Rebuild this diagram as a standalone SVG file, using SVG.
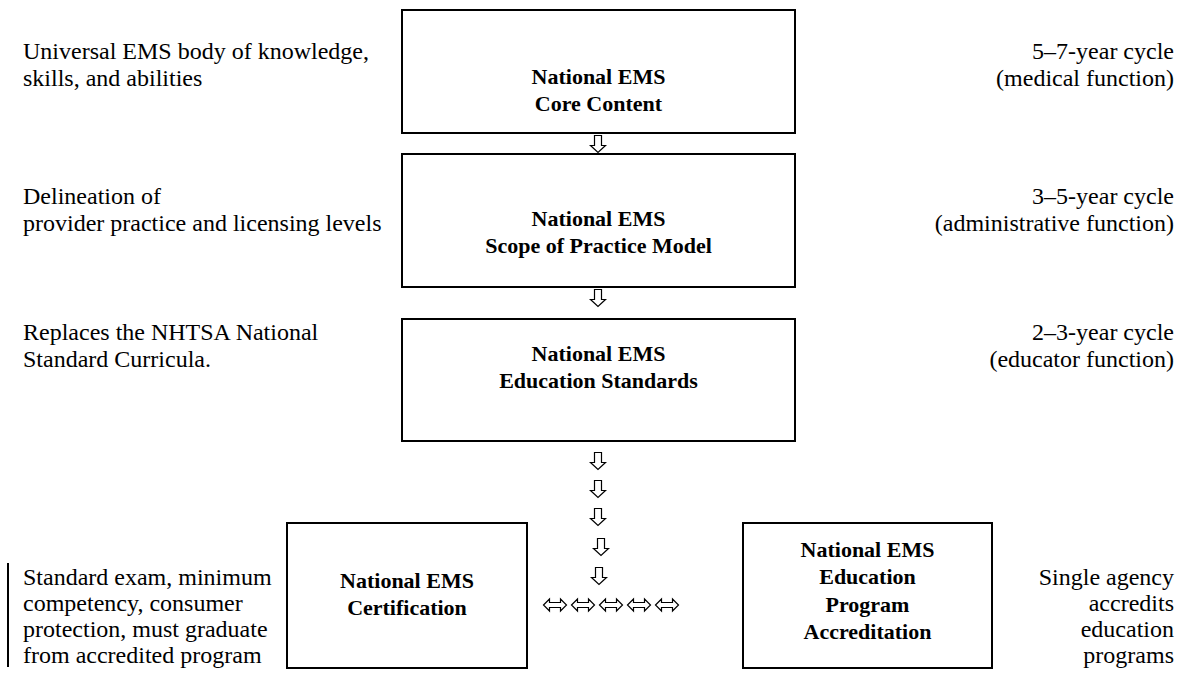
<svg xmlns="http://www.w3.org/2000/svg" width="1180" height="673" viewBox="0 0 1180 673">
  <style>
    .box { fill: #fff; stroke: #000; stroke-width: 2; }
    .title { font-family: "Liberation Serif", "Times New Roman", serif; font-weight: bold; font-size: 22px; fill: #000; text-anchor: middle; }
    .note { font-family: "Liberation Serif", "Times New Roman", serif; font-size: 24px; fill: #000; }
    .right { text-anchor: end; }
    .arrow { fill: #fff; stroke: #000; stroke-width: 1.2; stroke-linejoin: miter; }
  </style>
  <defs>
    <!-- hollow downward arrow -->
    <path id="down" class="arrow" d="M-3.5,-8.5 L3.5,-8.5 L3.5,1.5 L7.5,1.5 L0,8.5 L-7.5,1.5 L-3.5,1.5 Z"/>
    <!-- hollow left-right arrow -->
    <path id="both" class="arrow" d="M-11.5,0 L-5.5,-6 L-5.5,-2.5 L5.5,-2.5 L5.5,-6 L11.5,0 L5.5,6 L5.5,2.5 L-5.5,2.5 L-5.5,6 Z"/>
  </defs>
  <rect width="1180" height="673" fill="#fff"/>

  <g id="core-content">
    <rect class="box" x="402" y="10" width="393" height="123"/>
    <text class="title" x="598.5" y="84">National EMS</text>
    <text class="title" x="598.5" y="111">Core Content</text>
  </g>

  <g id="scope-of-practice">
    <rect class="box" x="402" y="154" width="393" height="133"/>
    <text class="title" x="598.5" y="226">National EMS</text>
    <text class="title" x="598.5" y="253">Scope of Practice Model</text>
  </g>

  <g id="education-standards">
    <rect class="box" x="402" y="319" width="393" height="122"/>
    <text class="title" x="598.5" y="361">National EMS</text>
    <text class="title" x="598.5" y="388">Education Standards</text>
  </g>

  <g id="certification">
    <rect class="box" x="287" y="523" width="240" height="145"/>
    <text class="title" x="407" y="588">National EMS</text>
    <text class="title" x="407" y="615">Certification</text>
  </g>

  <g id="accreditation">
    <rect class="box" x="743" y="523" width="249" height="145"/>
    <text class="title" x="867.5" y="557">National EMS</text>
    <text class="title" x="867.5" y="584">Education</text>
    <text class="title" x="867.5" y="612">Program</text>
    <text class="title" x="867.5" y="639">Accreditation</text>
  </g>

  <g id="notes">
    <text class="note" x="23" y="59">Universal EMS body of knowledge,</text>
    <text class="note" x="23" y="86">skills, and abilities</text>
    <text class="note right" x="1174" y="59">5–7-year cycle</text>
    <text class="note right" x="1174" y="86">(medical function)</text>

    <text class="note" x="23" y="204">Delineation of</text>
    <text class="note" x="23" y="231">provider practice and licensing levels</text>
    <text class="note right" x="1174" y="204">3–5-year cycle</text>
    <text class="note right" x="1174" y="231">(administrative function)</text>

    <text class="note" x="23" y="340">Replaces the NHTSA National</text>
    <text class="note" x="23" y="367">Standard Curricula.</text>
    <text class="note right" x="1174" y="340">2–3-year cycle</text>
    <text class="note right" x="1174" y="367">(educator function)</text>

    <line x1="8" y1="563" x2="8" y2="667" stroke="#000" stroke-width="2"/>
    <text class="note" x="23" y="585">Standard exam, minimum</text>
    <text class="note" x="23" y="611">competency, consumer</text>
    <text class="note" x="23" y="637">protection, must graduate</text>
    <text class="note" x="23" y="663">from accredited program</text>

    <text class="note right" x="1174" y="585">Single agency</text>
    <text class="note right" x="1174" y="611">accredits</text>
    <text class="note right" x="1174" y="637">education</text>
    <text class="note right" x="1174" y="663">programs</text>
  </g>

  <g id="connectors">
    <use href="#down" x="598" y="144"/>
    <use href="#down" x="598" y="298"/>
    <use href="#down" x="598" y="461"/>
    <use href="#down" x="598" y="489"/>
    <use href="#down" x="598" y="517"/>
    <use href="#down" x="601" y="547"/>
    <use href="#down" x="599" y="576"/>
    <use href="#both" x="555" y="605"/>
    <use href="#both" x="583" y="605"/>
    <use href="#both" x="611" y="605"/>
    <use href="#both" x="639" y="605"/>
    <use href="#both" x="667" y="605"/>
  </g>
</svg>
